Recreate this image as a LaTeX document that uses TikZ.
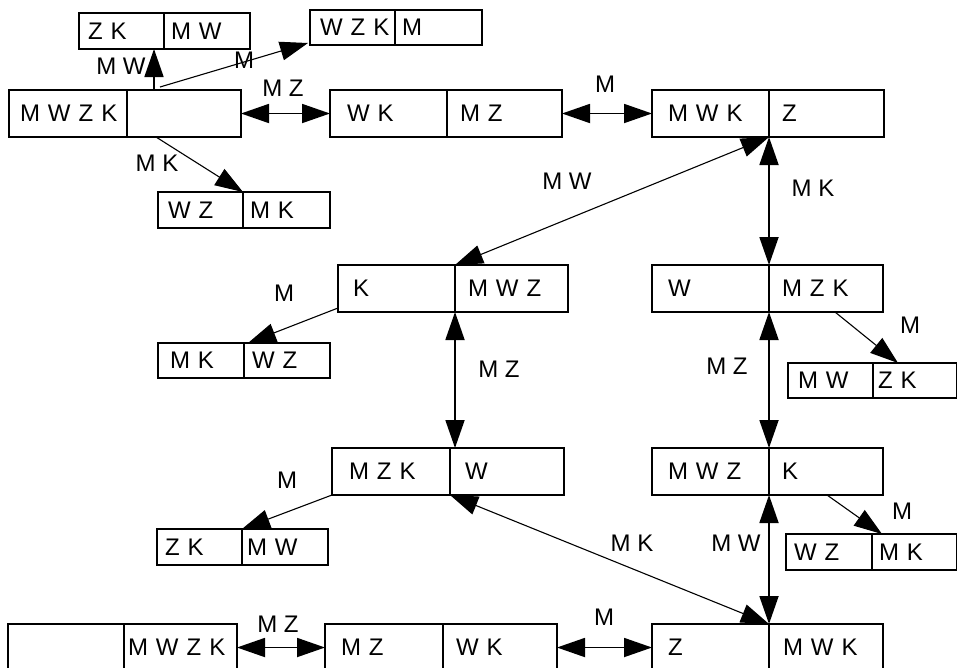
\documentclass[tikz,border=0pt]{standalone}
\usepackage{fontspec}
\setmainfont{Liberation Sans}
\usetikzlibrary{arrows.meta,calc}
\tikzset{
  cell/.style={draw, line width=1.8pt, inner ysep=0pt, align=left, anchor=north west,
    font=\fontsize{24}{28}\selectfont, text depth=0pt, outer sep=0pt},
  lab/.style={inner sep=0pt, font=\fontsize{24}{28}\selectfont, text depth=0pt},
  tip/.tip={Triangle[length=28pt,width=19pt]},
  sthick/.style={line width=1.8pt, -tip},
  sthin/.style={line width=1.1pt, -tip},
  dthick/.style={line width=1.8pt, tip-tip},
  dthin/.style={line width=1.1pt, tip-tip},
}
\newcommand\mycell[7]{%
  \pgfmathsetmacro\cw{#3-#2}\pgfmathsetmacro\ch{#5-#4}\pgfmathsetmacro\tw{#3-#2-2*#6}%
  \node[cell, minimum width=\cw pt, minimum height=\ch pt, text width=\tw pt, inner xsep=#6pt] (#1) at (#2,#4) {\mbox{#7}};}
\begin{document}
\begin{tikzpicture}[x=1pt,y=-1pt]
\useasboundingbox (0,0) rectangle (957,667);
% boxes
\mycell{b1l}{79}{164}{13}{49}{9}{Z K}
\mycell{b1r}{164}{250}{13}{49}{7}{M W}
\mycell{b2l}{310}{395}{10}{45}{10}{W Z K}
\mycell{b2r}{395}{482}{10}{45}{7}{M}
\mycell{b3l}{9}{127}{90}{137}{11}{M W Z K}
\mycell{b3r}{127}{241}{90}{137}{11}{}
\mycell{b4l}{330}{447}{90}{137}{17}{W K}
\mycell{b4r}{447}{562}{90}{137}{13}{M Z}
\mycell{b5l}{652}{769}{90}{137}{16}{M W K}
\mycell{b5r}{769}{884}{90}{137}{13}{Z}
\mycell{b6l}{158}{243}{192}{228}{10}{W Z}
\mycell{b6r}{243}{330}{192}{228}{7}{M K}
\mycell{b7l}{338}{455}{265}{312}{15}{K}
\mycell{b7r}{455}{568}{265}{312}{13}{M W Z}
\mycell{b8l}{652}{769}{265}{312}{16}{W}
\mycell{b8r}{769}{883}{265}{312}{13}{M Z K}
\mycell{b9l}{158}{244}{343}{378}{12}{M K}
\mycell{b9r}{244}{330}{343}{378}{8}{W Z}
\mycell{b10l}{788}{873}{363}{398}{10}{M W}
\mycell{b10r}{873}{957}{363}{398}{5}{Z K}
\mycell{b11l}{332}{450}{448}{495}{17}{M Z K}
\mycell{b11r}{450}{564}{448}{495}{15}{W}
\mycell{b12l}{652}{769}{448}{495}{16}{M W Z}
\mycell{b12r}{769}{883}{448}{495}{13}{K}
\mycell{b13l}{157}{242}{529}{565}{8}{Z K}
\mycell{b13r}{242}{328}{529}{565}{5}{M W}
\mycell{b14l}{786}{872}{534}{570}{8}{W Z}
\mycell{b14r}{872}{957}{534}{570}{7}{M K}
\mycell{b15l}{8}{124}{624}{671}{4}{}
\mycell{b15r}{124}{237}{624}{671}{4}{M W Z K}
\mycell{b16l}{325}{443}{624}{671}{16}{M Z}
\mycell{b16r}{443}{557}{624}{671}{13}{W K}
\mycell{b17l}{652}{769}{624}{671}{16}{Z}
\mycell{b17r}{769}{883}{624}{671}{14}{M W K}
% connectors
\draw[sthick] ($(b3r.north west)+(27,0)$) -- ($(b1l.south east)+(-10,0)$);
\draw[sthin] ($(b3r.north west)+(33,-3)$) -- ($(b2l.south west)+(-2,-2)$);
\draw[dthick] (b3r.east) -- (b4l.west);
\draw[dthick] (b4r.east) -- (b5l.west);
\draw[sthin] ($(b3r.south west)+(29,0)$) -- (b6l.north east);
\draw[dthin] (b7l.north east) -- (b5l.south east);
\draw[dthick] (b5l.south east) -- (b8l.north east);
\draw[sthin] ($(b7l.south west)+(0,-4)$) -- ($(b9l.north east)+(4,0)$);
\draw[dthick] (b7l.south east) -- (b7l.south east |- b11l.north);
\draw[dthick] (b8l.south east) -- (b12l.north east);
\draw[sthin] ($(b8r.south west)+(66,0)$) -- ($(b10r.north west)+(25,0)$);
\draw[sthin] ($(b12r.south west)+(58,0)$) -- ($(b14r.north west)+(10,0)$);
\draw[sthin] (b11l.south west) -- (b13l.north east);
\draw[dthin] (b11l.south east) -- (b17l.north east);
\draw[dthick] (b12l.south east) -- (b17l.north east);
\draw[dthick] (b15r.east) -- (b16l.west);
\draw[dthick] (b16r.east) -- (b17l.west);
% labels
\node[lab] (l1) at (121,66) {M W};
\node[lab] (l2) at (244,60) {M};
\node[lab] (l3) at (283,88) {M Z};
\node[lab] (l4) at (605,84) {M};
\node[lab] (l5) at (157,163) {M K};
\node[lab] (l6) at (567,181) {M W};
\node[lab] (l7) at (813,188) {M K};
\node[lab] (l8) at (284,293) {M};
\node[lab] (l9) at (499,369) {M Z};
\node[lab] (l10) at (727,366) {M Z};
\node[lab] (l11) at (910,325) {M};
\node[lab] (l12) at (902,511) {M};
\node[lab] (l13) at (287,480) {M};
\node[lab] (l14) at (632,543) {M K};
\node[lab] (l15) at (736,543) {M W};
\node[lab] (l16) at (278,624) {M Z};
\node[lab] (l17) at (604,617) {M};
\end{tikzpicture}
\end{document}
